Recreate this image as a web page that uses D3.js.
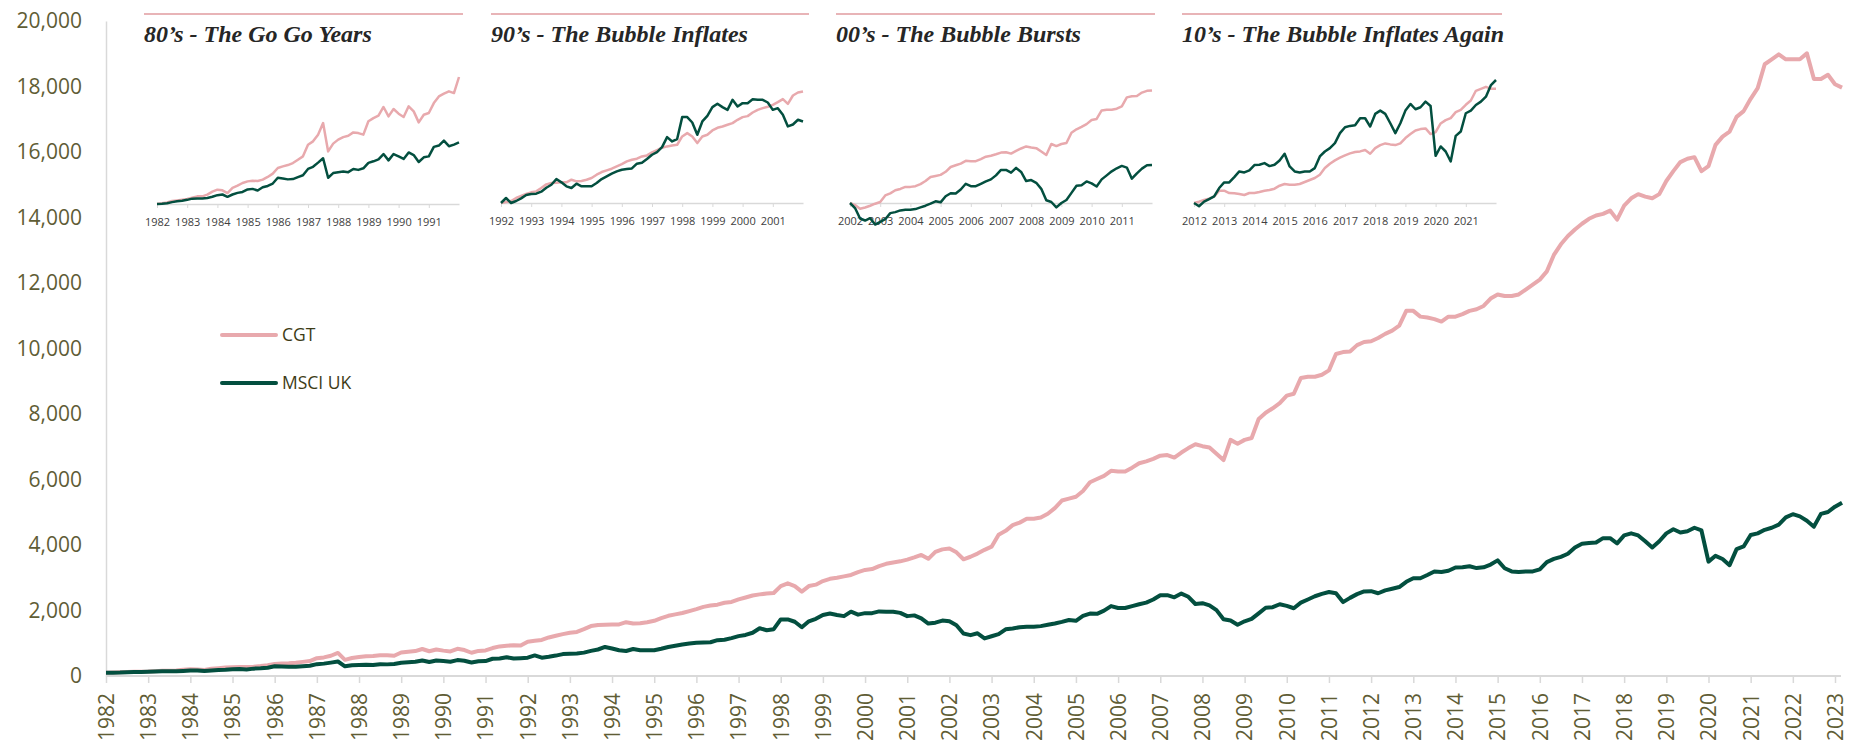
<!DOCTYPE html>
<html>
<head>
<meta charset="utf-8">
<script src="https://cdn.jsdelivr.net/npm/d3@7"></script>
<style>
  html, body { margin: 0; padding: 0; background: #fff; }
  svg { display: block; }
</style>
</head>
<body>
<svg id="chart" width="1850" height="745"></svg>
<script>
// Index values, one point every two months starting Jan 1982
const cgt1982 = [
  100, 105, 112, 122, 127, 132,
  137, 147, 157, 157, 170, 192,
  207, 202, 182, 220, 237, 257,
  269, 274, 272, 282, 302, 327,
  369, 381, 391, 406, 431, 456,
  543, 568, 618, 705, 493, 551,
  581, 600, 610, 635, 630, 618,
  718, 742, 760, 825, 755, 810,
  775, 750, 830, 792, 710, 767,
  780, 854, 904, 924, 942, 929
];
const msci1982 = [
  100, 102, 105, 114, 121, 124,
  131, 140, 142, 142, 145, 154,
  166, 171, 154, 171, 183, 190,
  209, 213, 201, 225, 235, 253,
  296, 291, 284, 286, 301, 315,
  362, 378, 409, 442, 296, 331,
  338, 343, 338, 362, 355, 367,
  407, 419, 433, 473, 426, 473,
  456, 437, 485, 466, 414, 449,
  456, 527, 537, 574, 532, 544
];
const cgt1992 = [
  1049, 1074, 1100, 1176, 1227, 1278,
  1321, 1346, 1431, 1524, 1558, 1567,
  1575, 1575, 1643, 1601, 1609, 1643,
  1685, 1770, 1838, 1881, 1923, 1982,
  2042, 2110, 2152, 2178, 2237, 2262,
  2339, 2398, 2458, 2492, 2517, 2534,
  2746, 2831, 2746, 2576, 2746, 2789,
  2899, 2967, 3001, 3043, 3086, 3171,
  3238, 3264, 3357, 3425, 3468, 3501,
  3552, 3620, 3697, 3578, 3790, 3866
];
const msci1992 = [
  560, 628, 560, 587, 623, 669,
  682, 687, 714, 768, 809, 886,
  841, 787, 764, 823, 787, 787,
  787, 832, 886, 922, 959, 990,
  1013, 1022, 1031, 1095, 1108, 1158,
  1217, 1253, 1321, 1457, 1398, 1430,
  1729, 1729, 1656, 1489, 1670, 1747,
  1865, 1910, 1865, 1828, 1964, 1874,
  1919, 1919, 1973, 1964, 1964, 1928,
  1828, 1851, 1760, 1602, 1629, 1693
];
const cgt2002 = [
  3892, 3776, 3564, 3641, 3738, 3853,
  3950, 4316, 4432, 4606, 4683, 4799,
  4799, 4837, 4953, 5127, 5358, 5416,
  5474, 5647, 5917, 6014, 6110, 6265,
  6245, 6245, 6361, 6496, 6554, 6631,
  6728, 6747, 6670, 6824, 6959, 7075,
  7017, 6978, 6786, 6593, 7210, 7094,
  7210, 7268, 7846, 8039, 8174, 8329,
  8560, 8618, 9100, 9139, 9139, 9197,
  9332, 9833, 9891, 9910, 10103, 10200
];
const msci2002 = [
  1670, 1548, 1296, 1247, 1304, 1149,
  1214, 1279, 1426, 1450, 1491, 1507,
  1507, 1523, 1564, 1605, 1654, 1711,
  1686, 1833, 1906, 1898, 1996, 2134,
  2077, 2077, 2134, 2191, 2240, 2337,
  2468, 2468, 2403, 2517, 2419, 2199,
  2224, 2158, 2012, 1735, 1694, 1564,
  1670, 1743, 1914, 2085, 2101, 2191,
  2142, 2069, 2240, 2337, 2435, 2508,
  2565, 2525, 2256, 2386, 2500, 2582
];
const cgt2012 = [
  10220, 10320, 10446, 10546, 10697, 11149,
  11149, 10973, 10948, 10898, 10822, 10973,
  10973, 11048, 11149, 11199, 11299, 11525,
  11651, 11601, 11601, 11651, 11801, 11952,
  12103, 12354, 12856, 13182, 13433, 13634,
  13809, 13960, 14060, 14111, 14211, 13935,
  14362, 14587, 14713, 14638, 14587, 14713,
  15115, 15416, 15692, 15792, 15842, 15416,
  15566, 16219, 16470, 16621, 17072, 17248,
  17625, 17951, 18679, 18829, 18980, 18829
];
const msci2012 = [
  2590, 2527, 2615, 2666, 2717, 2876,
  2984, 2984, 3085, 3193, 3174, 3212,
  3314, 3320, 3352, 3295, 3320, 3403,
  3530, 3289, 3193, 3174, 3193, 3193,
  3257, 3479, 3574, 3638, 3733, 3924,
  4038, 4063, 4076, 4209, 4209, 4051,
  4292, 4355, 4292, 4114, 3924, 4114,
  4355, 4482, 4381, 4419, 4527, 4444,
  3492, 3670, 3574, 3384, 3873, 3955,
  4305, 4355, 4463, 4527, 4622, 4844
];
const cgt2022 = [18830, 18830, 19011, 18229, 18229, 18357, 18070, 17966];
const msci2022 = [4940, 4873, 4740, 4560, 4950, 5007, 5170, 5292];

const yTicks = [0, 2000, 4000, 6000, 8000, 10000, 12000, 14000, 16000, 18000, 20000];
const xYears = d3.range(1982, 2024);

const insetTitles = [
  '80\u2019s - The Go Go Years',
  '90\u2019s - The Bubble Inflates',
  '00\u2019s - The Bubble Bursts',
  '10\u2019s - The Bubble Inflates Again'
];
const insetStarts = [1982, 1992, 2002, 2012];

const startYear = 1982;
const perYear = 6;

const cgt = [].concat(cgt1982, cgt1992, cgt2002, cgt2012, cgt2022);
const msci = [].concat(msci1982, msci1992, msci2002, msci2012, msci2022);
const dates = cgt.map((d, i) => startYear + i / perYear);

const series = [
  { name: 'CGT', values: cgt, color: '#e8a9ad' },
  { name: 'MSCI UK', values: msci, color: '#034f3f' }
];

const olive = '#5f5d35';
const grid = '#d9d9d9';
const sans = '"Open Sans", "Segoe UI", sans-serif';

const svg = d3.select('#chart');

// ---- main chart ----
const x = d3.scaleLinear().domain([1982, 2023]).range([106, 1835]);
const y = d3.scaleLinear().domain([0, 20000]).range([676, 21]);

const yAxis = svg.append('g')
  .attr('transform', `translate(${x.range()[0]},0)`)
  .call(d3.axisLeft(y).tickValues(yTicks).tickFormat(d3.format(',')).tickSize(0).tickSizeOuter(0).tickPadding(24));
yAxis.select('.domain').attr('stroke', grid).attr('stroke-width', 1.5);
yAxis.selectAll('text')
  .attr('fill', olive)
  .style('font-family', sans)
  .style('font-size', '21px');

const xAxis = svg.append('g')
  .attr('transform', `translate(0,${y(0)})`)
  .call(d3.axisBottom(x).tickValues(xYears).tickFormat(d3.format('d')).tickSize(7).tickSizeOuter(0));
xAxis.select('.domain').remove();
xAxis.selectAll('.tick line').attr('stroke', grid).attr('stroke-width', 1.5);
xAxis.append('line')
  .attr('x1', x(1982)).attr('x2', x(2023) + 6)
  .attr('stroke', grid).attr('stroke-width', 2);
xAxis.selectAll('.tick text')
  .attr('transform', 'rotate(-90)')
  .attr('x', -17)
  .attr('y', 0)
  .attr('dy', '0.35em')
  .style('text-anchor', 'end')
  .attr('fill', olive)
  .style('font-family', sans)
  .style('font-size', '21px');

const line = d3.line()
  .x((d, i) => x(dates[i]))
  .y((d) => y(d));

svg.append('g')
  .selectAll('path')
  .data(series)
  .join('path')
  .attr('d', (s) => line(s.values))
  .attr('fill', 'none')
  .attr('stroke', (s) => s.color)
  .attr('stroke-width', 4)
  .attr('stroke-linejoin', 'round');

// legend
const legend = svg.append('g').attr('transform', 'translate(222,335)');
series.forEach((s, i) => {
  const row = legend.append('g').attr('transform', `translate(0,${i * 48})`);
  row.append('line').attr('x1', 0).attr('x2', 54)
    .attr('stroke', s.color).attr('stroke-width', 4).attr('stroke-linecap', 'round');
  row.append('text').attr('x', 60).attr('dy', '0.35em')
    .text(s.name)
    .attr('fill', '#3d3b16')
    .style('font-family', sans)
    .style('font-size', '17.5px');
});

// ---- decade insets ----
const insetLeft = [157, 501, 850, 1194];
const insetRule = [[144, 463], [491, 809], [836, 1155], [1182, 1502]];
const insetAxisY = [204, 203, 203, 203];
const insetPeakY = [77, 91.5, 90.5, 80];
const insetYearPx = 30.2;

insetStarts.forEach((start, k) => {
  const g = svg.append('g');
  const i0 = (start - startYear) * perYear;
  const idx = d3.range(i0, i0 + 10 * perYear + 1);

  g.append('line')
    .attr('x1', insetRule[k][0]).attr('x2', insetRule[k][1])
    .attr('y1', 14).attr('y2', 14)
    .attr('stroke', '#e8b4b7').attr('stroke-width', 2);

  g.append('text')
    .attr('x', insetRule[k][0]).attr('y', 42)
    .text(insetTitles[k])
    .attr('fill', '#262626')
    .style('font-family', '"Liberation Serif", "Times New Roman", serif')
    .style('font-style', 'italic')
    .style('font-weight', 'bold')
    .style('font-size', '24px');

  const xs = d3.scaleLinear().domain([start, start + 10])
    .range([insetLeft[k], insetLeft[k] + 10 * insetYearPx]);

  const rebased = series.map((s) => ({
    color: s.color,
    values: idx.map((i) => s.values[i] / s.values[i0] - 1)
  }));
  const peak = d3.max(rebased, (r) => d3.max(r.values));
  const ys = d3.scaleLinear().domain([0, peak]).range([insetAxisY[k], insetPeakY[k]]);

  const ax = g.append('g')
    .attr('transform', `translate(0,${insetAxisY[k]})`)
    .call(d3.axisBottom(xs).tickValues(d3.range(start, start + 10)).tickFormat(d3.format('d'))
      .tickSize(4).tickSizeOuter(0).tickPadding(10));
  ax.select('.domain').attr('stroke', grid).attr('stroke-width', 1.5);
  ax.selectAll('.tick line').attr('stroke', grid);
  ax.selectAll('text')
    .attr('fill', '#404040')
    .style('font-family', sans)
    .style('font-size', '11px');

  const insetLine = d3.line()
    .x((d, j) => xs(dates[idx[j]]))
    .y((d) => ys(d));

  g.append('g')
    .selectAll('path')
    .data(rebased)
    .join('path')
    .attr('d', (r) => insetLine(r.values))
    .attr('fill', 'none')
    .attr('stroke', (r) => r.color)
    .attr('stroke-width', 2.5)
    .attr('stroke-linejoin', 'round');
});
</script>
</body>
</html>
